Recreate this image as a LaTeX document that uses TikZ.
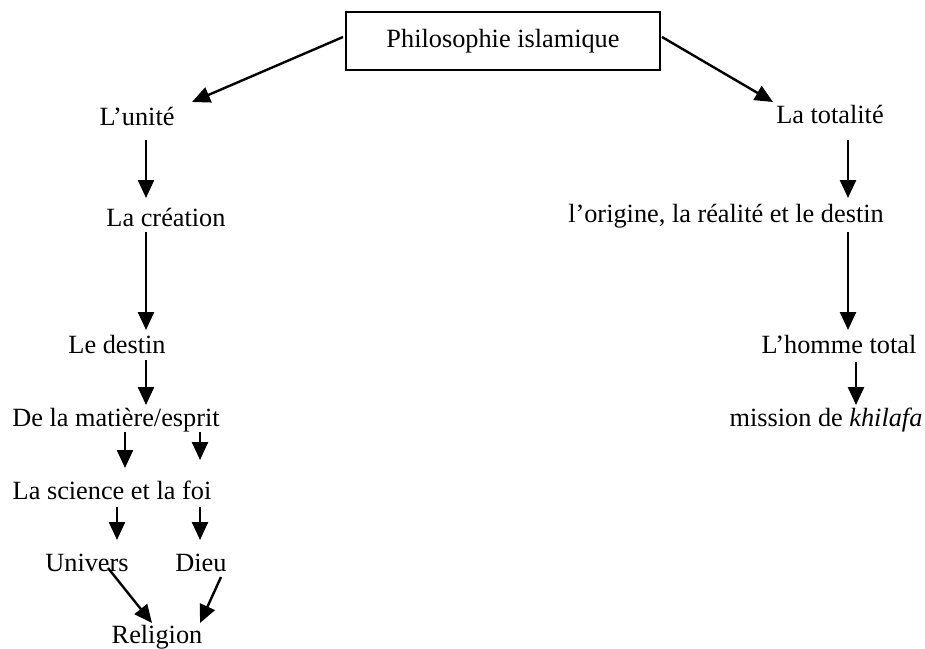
\documentclass[tikz,border=0pt]{standalone}
\usepackage{fontspec}
\setmainfont{Liberation Serif}
\usetikzlibrary{arrows.meta}
\begin{document}
\begin{tikzpicture}[x=1pt,y=-1pt,
  lbl/.style={inner sep=0pt,anchor=base,font=\fontsize{26.3}{30}\selectfont},
  titlebox/.style={draw,line width=1.5pt,minimum width=314pt,minimum height=58pt,
    inner sep=0pt,font=\fontsize{26.3}{30}\selectfont},
  arr/.style={line width=2.4pt,-{Triangle[length=18pt,width=16pt]}}]
\useasboundingbox (0,0) rectangle (925,648);

% title
\node[titlebox] (phil) at (503,41) {Philosophie islamique};

% left branch
\node[lbl] (unite)    at (137,125) {L’unité};
\node[lbl] (creation) at (166,226) {La création};
\node[lbl] (destin)   at (117,353) {Le destin};
\node[lbl] (matiere)  at (116,426) {De la matière/esprit};
\node[lbl] (science)  at (112,499) {La science et la foi};
\node[lbl] (univers)  at (87,571)  {Univers};
\node[lbl] (dieu)     at (201,571) {Dieu};
\node[lbl] (religion) at (157,643) {Religion};

% right branch
\node[lbl] (totalite) at (830,123) {La totalité};
\node[lbl] (origine)  at (726,222) {l’origine, la réalité et le destin};
\node[lbl] (homme)    at (839,353) {L’homme total};
\node[lbl] (mission)  at (826,426) {mission de \textit{khilafa}};

% connectors
\draw[arr] ([shift={(-160,-4)}]phil.center) -- ([shift={(55,-23)}]unite.base);
\draw[arr] ([shift={(159,-4)}]phil.center) -- ([shift={(-57,-21)}]totalite.base);

\draw[arr] ([shift={(9,15)}]unite.base) -- ([shift={(-20,-28)}]creation.base);
\draw[arr] ([shift={(-20,6)}]creation.base) -- ([shift={(29,-23)}]destin.base);
\draw[arr] ([shift={(29,7)}]destin.base) -- ([shift={(30,-21)}]matiere.base);
\draw[arr] ([shift={(9,6)}]matiere.base) -- ([shift={(13,-31)}]science.base);
\draw[arr] ([shift={(84,6)}]matiere.base) -- ([shift={(88,-39)}]science.base);
\draw[arr] ([shift={(5,8)}]science.base) -- ([shift={(30,-31)}]univers.base);
\draw[arr] ([shift={(88,8)}]science.base) -- ([shift={(-1,-31)}]dieu.base);
\draw[arr] ([shift={(21,-3)}]univers.base) -- ([shift={(-5,-20)}]religion.base);
\draw[arr] ([shift={(20,6)}]dieu.base) -- ([shift={(43,-20)}]religion.base);

\draw[arr] ([shift={(18,17)}]totalite.base) -- ([shift={(122,-24)}]origine.base);
\draw[arr] ([shift={(122,10)}]origine.base) -- ([shift={(9,-23)}]homme.base);
\draw[arr] ([shift={(17,9)}]homme.base) -- ([shift={(30,-21)}]mission.base);
\end{tikzpicture}
\end{document}
